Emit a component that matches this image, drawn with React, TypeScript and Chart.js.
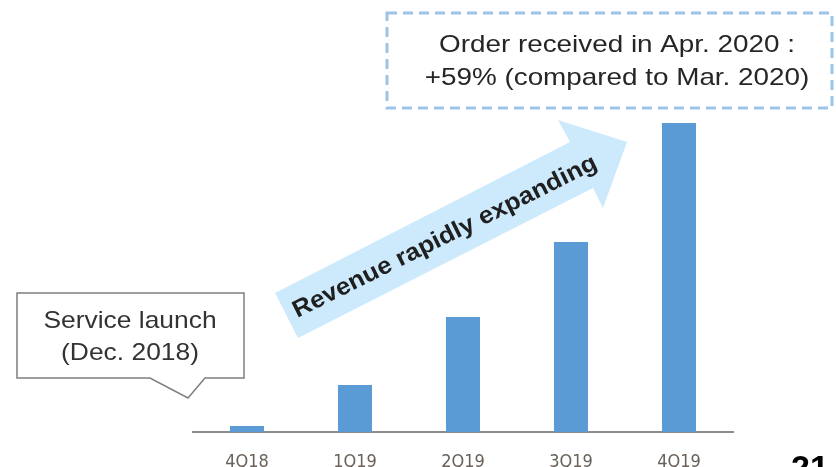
import React, { useEffect, useRef } from "react";
import { Chart, registerables } from "chart.js";

Chart.register(...registerables);

const categories = ["4Q18", "1Q19", "2Q19", "3Q19", "4Q19"];
const revenue = [6, 47, 115, 190, 309];
const yMax = 320;

const launchLines = ["Service launch", "(Dec. 2018)"];
const orderLines = ["Order received in Apr. 2020 :", "+59% (compared to Mar. 2020)"];
const arrowLabel = "Revenue rapidly expanding";
const pageNumber = "21";

function stretchedText(ctx: CanvasRenderingContext2D, text: string, x: number, y: number, sx: number) {
  ctx.save();
  ctx.translate(x, y);
  ctx.scale(sx, 1);
  ctx.fillText(text, 0, 0);
  ctx.restore();
}

const annotations = {
  id: "annotations",
  afterDraw(chart: any) {
    const ctx = chart.ctx as CanvasRenderingContext2D;
    ctx.save();

    // Arrow
    ctx.beginPath();
    ctx.moveTo(275, 293);
    ctx.lineTo(570, 142);
    ctx.lineTo(558, 120);
    ctx.lineTo(627, 142);
    ctx.lineTo(603, 208);
    ctx.lineTo(593, 188);
    ctx.lineTo(298, 338);
    ctx.closePath();
    ctx.fillStyle = "#cdeafc";
    ctx.fill();

    ctx.save();
    ctx.translate(445, 237);
    ctx.rotate(-26.5 * Math.PI / 180);
    ctx.scale(1.08, 1);
    ctx.fillStyle = "#1f1f1f";
    ctx.font = "bold 24px 'Liberation Sans', Arial, sans-serif";
    ctx.textAlign = "center";
    ctx.textBaseline = "middle";
    ctx.fillText(arrowLabel, 0, 0);
    ctx.restore();

    // Service launch callout
    ctx.beginPath();
    ctx.moveTo(17, 293);
    ctx.lineTo(244, 293);
    ctx.lineTo(244, 378);
    ctx.lineTo(205, 378);
    ctx.lineTo(188, 398);
    ctx.lineTo(150, 378);
    ctx.lineTo(17, 378);
    ctx.closePath();
    ctx.fillStyle = "#ffffff";
    ctx.fill();
    ctx.strokeStyle = "#7f7f7f";
    ctx.lineWidth = 1.5;
    ctx.stroke();

    ctx.fillStyle = "#333333";
    ctx.font = "24px 'Liberation Sans', Arial, sans-serif";
    ctx.textAlign = "center";
    ctx.textBaseline = "middle";
    stretchedText(ctx, launchLines[0], 130, 321, 1.1);
    stretchedText(ctx, launchLines[1], 130, 353, 1.1);

    // Order box dashed
    ctx.setLineDash([10, 6]);
    ctx.strokeStyle = "#9dc3e6";
    ctx.lineWidth = 3;
    ctx.strokeRect(387, 13, 445, 95);
    ctx.setLineDash([]);

    ctx.fillStyle = "#262626";
    ctx.font = "24px 'Liberation Sans', Arial, sans-serif";
    stretchedText(ctx, orderLines[0], 617, 45, 1.16);
    stretchedText(ctx, orderLines[1], 617, 78, 1.16);

    // Page number
    ctx.fillStyle = "#000000";
    ctx.font = "bold 34px 'Liberation Sans', Arial, sans-serif";
    ctx.textAlign = "left";
    ctx.textBaseline = "top";
    ctx.fillText(pageNumber, 791, 453);

    ctx.restore();
  },
};

export default function App() {
  const ref = useRef<HTMLCanvasElement | null>(null);

  useEffect(() => {
    document.body.style.margin = "0";
    const canvas = ref.current!;
    const chart = new Chart(canvas, {
      type: "bar",
      data: {
        labels: categories,
        datasets: [
          {
            data: revenue,
            backgroundColor: "#5b9bd5",
            borderWidth: 0,
            barPercentage: 0.315,
            categoryPercentage: 1,
          },
        ],
      },
      options: {
        responsive: false,
        animation: false,
        layout: { padding: { left: 193, right: 103, top: 112, bottom: 0 } },
        plugins: {
          legend: { display: false },
          tooltip: { enabled: false },
        },
        scales: {
          x: {
            grid: { display: false, drawTicks: false },
            border: { display: true, color: "#8c8c8c", width: 2 },
            ticks: {
              color: "#6a625a",
              padding: 20,
              font: { family: "'DejaVu Sans Condensed', 'Liberation Sans Narrow', sans-serif", size: 18 },
            },
            afterFit(scale: any) {
              scale.height = 35;
            },
          },
          y: {
            display: false,
            min: 0,
            max: yMax,
          },
        },
      },
      plugins: [annotations],
    });
    return () => chart.destroy();
  }, []);

  return <canvas ref={ref} width={836} height={467} style={{ display: "block" }} />;
}
